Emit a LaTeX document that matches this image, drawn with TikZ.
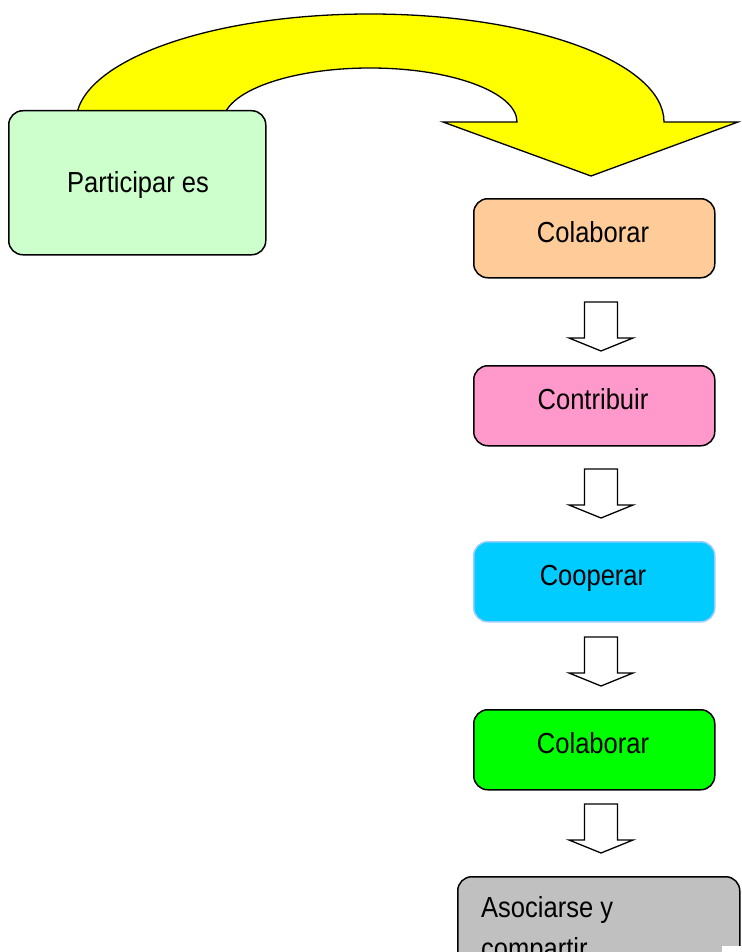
\documentclass[tikz,border=0pt]{standalone}
\usepackage{fontspec}
\setmainfont[FakeStretch=0.88]{Liberation Sans}
\definecolor{pgreen}{HTML}{CCFFCC}
\definecolor{porange}{HTML}{FFCC99}
\definecolor{ppink}{HTML}{FF99CC}
\definecolor{pcyan}{HTML}{00CCFF}
\definecolor{pcyanedge}{HTML}{99CCFF}
\definecolor{plime}{HTML}{00FF00}
\definecolor{pgrey}{HTML}{C0C0C0}
\definecolor{pyellow}{HTML}{FFFF00}
\begin{document}
\begin{tikzpicture}[x=1pt,y=-1pt,
  box/.style={draw=black, line width=1.5pt, rounded corners=14pt, inner sep=0pt, anchor=north west},
  lbl/.style={anchor=base, inner sep=0pt, font=\fontsize{29}{35}\selectfont},
  blockarrow/.style={draw=black, line width=1.3pt, fill=white, line join=miter},
  darrow/.pic={\draw[blockarrow] (-16.5,0) -- (16.5,0) -- (16.5,36) -- (32,36) -- (0,49) -- (-32,36) -- (-16.5,36) -- cycle;}]
\useasboundingbox (0,0) rectangle (741,952);
\begin{scope}
\clip (0,0) rectangle (741,952);
% big curved yellow arrow
\draw[fill=pyellow, line width=1.3pt, line join=miter]
  (76,122) arc[start angle=180, end angle=0, x radius=294pt, y radius=108pt]
  -- (738,122) -- (591,176) -- (443,122) -- (517,122)
  arc[start angle=0, end angle=180, x radius=147pt, y radius=54pt] -- cycle;
% boxes
\node[box, fill=pgreen, minimum width=257pt, minimum height=144pt] (part) at (8,110) {};
\node[box, fill=porange, minimum width=241pt, minimum height=79pt] (colab1) at (473,198) {};
\node[box, fill=ppink, minimum width=241pt, minimum height=80pt] (contr) at (473,365) {};
\node[box, draw=pcyanedge, fill=pcyan, minimum width=241pt, minimum height=80pt] (coop) at (473,541) {};
\node[box, fill=plime, minimum width=241pt, minimum height=80pt] (colab2) at (473,709) {};
\node[box, fill=pgrey, minimum width=282pt, minimum height=150pt] (asoc) at (457,876) {};
% labels
\node[lbl] (tpart) at (138,193) {Participar es};
\node[lbl] (tcolab1) at (593,242) {Colaborar};
\node[lbl] (tcontr) at (593,409) {Contribuir};
\node[lbl] (tcoop) at (593,585) {Cooperar};
\node[lbl] (tcolab2) at (593,753) {Colaborar};
\node[lbl, anchor=base west] (tasoc1) at (481,917) {Asociarse y};
\node[lbl, anchor=base west] (tasoc2) at (481,958) {compartir};
% small block arrows
\pic (a1) at (601,302) {darrow};
\pic (a2) at (601,469) {darrow};
\pic (a3) at (601,637) {darrow};
\pic (a4) at (601,804) {darrow};
\fill[white] (722,946) rectangle (741,952);
\end{scope}
\end{tikzpicture}
\end{document}
